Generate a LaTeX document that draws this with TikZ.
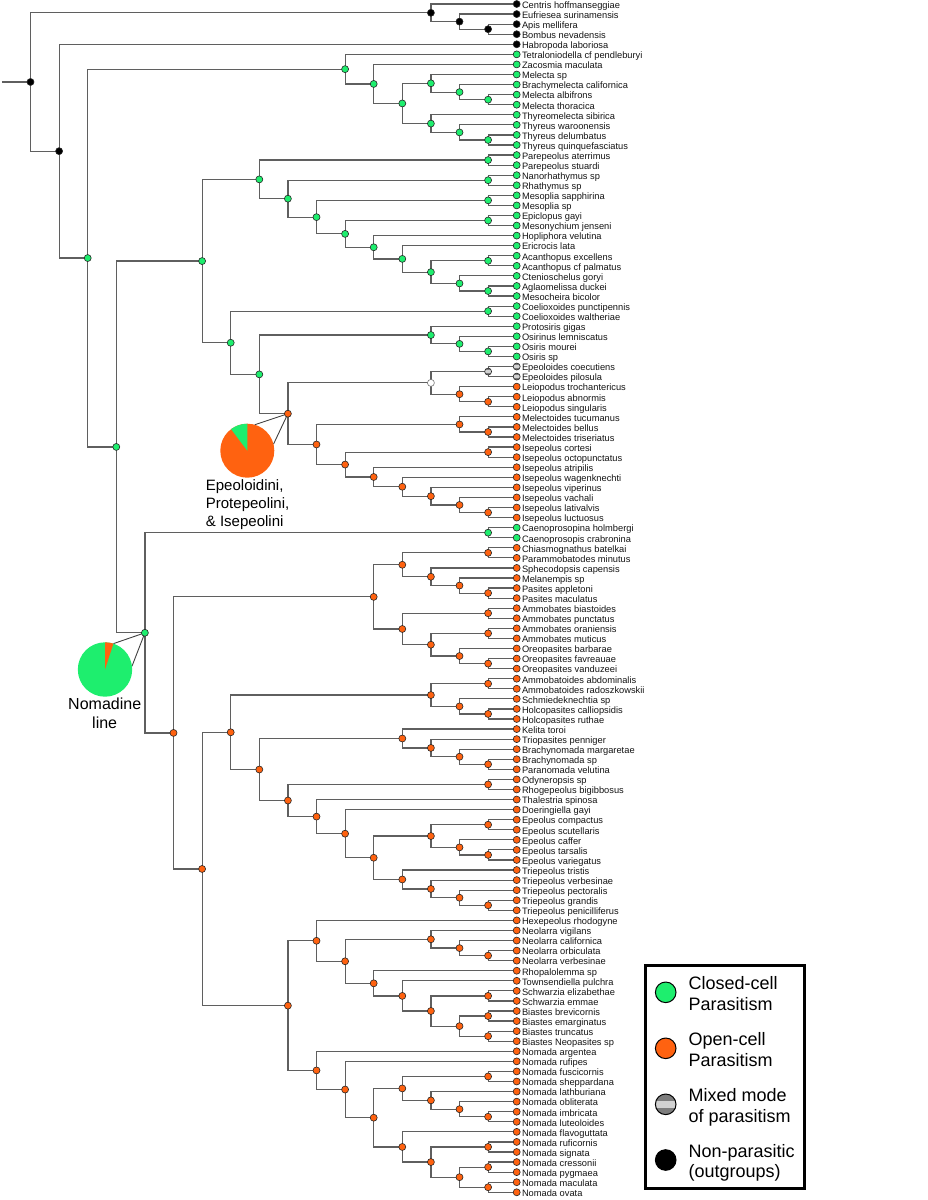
\documentclass[tikz,border=0pt]{standalone}
\usepackage{fontspec}
\setmainfont{Liberation Sans}
\usetikzlibrary{calc}
\definecolor{gcol}{RGB}{30,238,110}
\definecolor{ocol}{RGB}{255,98,16}
\definecolor{ecol}{RGB}{95,95,95}
\definecolor{mixdark}{RGB}{125,125,125}
\definecolor{mixlight}{RGB}{210,210,210}
\pgfdeclarelayer{bg}
\pgfsetlayers{bg,main}
\tikzset{
  branch/.style={draw=ecol, line width=1.2pt},
  pieline/.style={draw=black!75, line width=0.9pt},
  nd/.style={circle, draw=black!85, line width=0.6pt, inner sep=0pt, minimum size=7pt},
  gdot/.style={nd, fill=gcol},
  odot/.style={nd, fill=ocol},
  bdot/.style={nd, fill=black},
  wdot/.style={nd, fill=white, draw=black!55},
  mixband/.style={path picture={\fill[mixlight] ([yshift=-#1]path picture bounding box.west) rectangle ([yshift=#1]path picture bounding box.east);}},
  mdot/.style={nd, fill=mixdark, mixband=1.1pt},
  tiplab/.style={anchor=base west, inner sep=0pt, font=\fontsize{9.3}{10}\selectfont, text=black!92},
  lgdot/.style={circle, draw=black, line width=1pt, inner sep=0pt, minimum size=20.6pt},
  lgtext/.style={anchor=west, inner sep=0pt, align=left, font=\fontsize{18}{20.7}\selectfont},
}
\newcommand\tip[3]{%
  \coordinate (t#1) at (516.7,{4+10.07*(#1-1)});
  \node[#3] (dt#1) at (t#1) {};
  \node[tiplab] (L#1) at (521.8,{8.3+10.07*(#1-1)}) {#2};
}
\newcommand\cl[5]{%
  \path let \p1=(#3), \p2=(#4) in ({(516.7-28.6*#2)*1pt},{0.5*(\y1+\y2)}) coordinate (#1);
  \begin{pgfonlayer}{bg}
  \draw[branch] (#1) |- (#3);
  \draw[branch] (#1) |- (#4);
  \end{pgfonlayer}
  \node[#5] (d#1) at (#1) {};
}
\begin{document}
\begin{tikzpicture}[x=1pt,y=-1pt]
\useasboundingbox (0,0) rectangle (927,1200);
% tips
\foreach \i/\nm in {1/Centris hoffmanseggiae,2/Eufriesea surinamensis,3/Apis mellifera,4/Bombus nevadensis,5/Habropoda laboriosa}{\tip{\i}{\nm}{bdot}}
\foreach \i/\nm in {6/Tetraloniodella cf pendleburyi,7/Zacosmia maculata,8/Melecta sp,9/Brachymelecta californica,10/Melecta albifrons,11/Melecta thoracica,12/Thyreomelecta sibirica,13/Thyreus waroonensis,14/Thyreus delumbatus,15/Thyreus quinquefasciatus,16/Parepeolus aterrimus,17/Parepeolus stuardi,18/Nanorhathymus sp,19/Rhathymus sp,20/Mesoplia sapphirina,21/Mesoplia sp,22/Epiclopus gayi,23/Mesonychium jenseni,24/Hopliphora velutina,25/Ericrocis lata,26/Acanthopus excellens,27/Acanthopus cf palmatus,28/Ctenioschelus goryi,29/Aglaomelissa duckei,30/Mesocheira bicolor,31/Coelioxoides punctipennis,32/Coelioxoides waltheriae,33/Protosiris gigas,34/Osirinus lemniscatus,35/Osiris mourei,36/Osiris sp}{\tip{\i}{\nm}{gdot}}
\foreach \i/\nm in {37/Epeoloides coecutiens,38/Epeoloides pilosula}{\tip{\i}{\nm}{mdot}}
\foreach \i/\nm in {39/Leiopodus trochantericus,40/Leiopodus abnormis,41/Leiopodus singularis,42/Melectoides tucumanus,43/Melectoides bellus,44/Melectoides triseriatus,45/Isepeolus cortesi,46/Isepeolus octopunctatus,47/Isepeolus atripilis,48/Isepeolus wagenknechti,49/Isepeolus viperinus,50/Isepeolus vachali,51/Isepeolus lativalvis,52/Isepeolus luctuosus}{\tip{\i}{\nm}{odot}}
\foreach \i/\nm in {53/Caenoprosopina holmbergi,54/Caenoprosopis crabronina}{\tip{\i}{\nm}{gdot}}
\foreach \i/\nm in {55/Chiasmognathus batelkai,56/Parammobatodes minutus,57/Sphecodopsis capensis,58/Melanempis sp,59/Pasites appletoni,60/Pasites maculatus,61/Ammobates biastoides,62/Ammobates punctatus,63/Ammobates oraniensis,64/Ammobates muticus,65/Oreopasites barbarae,66/Oreopasites favreauae,67/Oreopasites vanduzeei,68/Ammobatoides abdominalis,69/Ammobatoides radoszkowskii,70/Schmiedeknechtia sp,71/Holcopasites calliopsidis,72/Holcopasites ruthae,73/Kelita toroi,74/Triopasites penniger,75/Brachynomada margaretae,76/Brachynomada sp,77/Paranomada velutina,78/Odyneropsis sp,79/Rhogepeolus bigibbosus,80/Thalestria spinosa,81/Doeringiella gayi,82/Epeolus compactus,83/Epeolus scutellaris,84/Epeolus caffer,85/Epeolus tarsalis,86/Epeolus variegatus,87/Triepeolus tristis,88/Triepeolus verbesinae,89/Triepeolus pectoralis,90/Triepeolus grandis,91/Triepeolus penicilliferus,92/Hexepeolus rhodogyne,93/Neolarra vigilans,94/Neolarra californica,95/Neolarra orbiculata,96/Neolarra verbesinae,97/Rhopalolemma sp,98/Townsendiella pulchra,99/Schwarzia elizabethae,100/Schwarzia emmae,101/Biastes brevicornis,102/Biastes emarginatus,103/Biastes truncatus,104/Biastes Neopasites sp,105/Nomada argentea,106/Nomada rufipes,107/Nomada fuscicornis,108/Nomada sheppardana,109/Nomada lathburiana,110/Nomada obliterata,111/Nomada imbricata,112/Nomada luteoloides,113/Nomada flavoguttata,114/Nomada ruficornis,115/Nomada signata,116/Nomada cressonii,117/Nomada pygmaea,118/Nomada maculata,119/Nomada ovata}{\tip{\i}{\nm}{odot}}
% outgroups
\cl{o1}{1}{t3}{t4}{bdot}
\cl{o2}{2}{t2}{o1}{bdot}
\cl{o3}{3}{t1}{o2}{bdot}
% Melectini
\cl{m1}{1}{t10}{t11}{gdot}
\cl{m2}{2}{t9}{m1}{gdot}
\cl{m3}{3}{t8}{m2}{gdot}
\cl{m4}{1}{t14}{t15}{gdot}
\cl{m5}{2}{t13}{m4}{gdot}
\cl{m6}{3}{t12}{m5}{gdot}
\cl{m7}{4}{m3}{m6}{gdot}
\cl{m8}{5}{t7}{m7}{gdot}
\cl{m9}{6}{t6}{m8}{gdot}
% Ericrocidini etc
\cl{a1}{1}{t16}{t17}{gdot}
\cl{a2}{1}{t18}{t19}{gdot}
\cl{a3}{1}{t20}{t21}{gdot}
\cl{a4}{1}{t22}{t23}{gdot}
\cl{a5}{1}{t26}{t27}{gdot}
\cl{a6}{1}{t29}{t30}{gdot}
\cl{a7}{2}{t28}{a6}{gdot}
\cl{a8}{3}{a5}{a7}{gdot}
\cl{a9}{4}{t25}{a8}{gdot}
\cl{a10}{5}{t24}{a9}{gdot}
\cl{a11}{6}{a4}{a10}{gdot}
\cl{a12}{7}{a3}{a11}{gdot}
\cl{a13}{8}{a2}{a12}{gdot}
\cl{a14}{9}{a1}{a13}{gdot}
% Coelioxoides, Osirini, Epeoloidini, Isepeolini
\cl{b1}{1}{t31}{t32}{gdot}
\cl{b2}{1}{t35}{t36}{gdot}
\cl{b3}{2}{t34}{b2}{gdot}
\cl{b4}{3}{t33}{b3}{gdot}
\cl{b5}{1}{t37}{t38}{mdot}
\cl{b6}{1}{t40}{t41}{odot}
\cl{b7}{2}{t39}{b6}{odot}
\cl{b8}{3}{b5}{b7}{wdot}
\cl{b9}{1}{t43}{t44}{odot}
\cl{b10}{2}{t42}{b9}{odot}
\cl{b11}{1}{t45}{t46}{odot}
\cl{b12}{1}{t51}{t52}{odot}
\cl{b13}{2}{t50}{b12}{odot}
\cl{b14}{3}{t49}{b13}{odot}
\cl{b15}{4}{t48}{b14}{odot}
\cl{b16}{5}{t47}{b15}{odot}
\cl{b17}{6}{b11}{b16}{odot}
\cl{b18}{7}{b10}{b17}{odot}
\cl{b19}{8}{b8}{b18}{odot}
\cl{b20}{9}{b4}{b19}{gdot}
\cl{b21}{10}{b1}{b20}{gdot}
\cl{b22}{11}{a14}{b21}{gdot}
% Nomadinae
\cl{c1}{1}{t53}{t54}{gdot}
\cl{c2}{1}{t55}{t56}{odot}
\cl{c3}{1}{t59}{t60}{odot}
\cl{c4}{2}{t58}{c3}{odot}
\cl{c5}{3}{t57}{c4}{odot}
\cl{c6}{4}{c2}{c5}{odot}
\cl{c7}{1}{t61}{t62}{odot}
\cl{c8}{1}{t63}{t64}{odot}
\cl{c9}{1}{t66}{t67}{odot}
\cl{c10}{2}{t65}{c9}{odot}
\cl{c11}{3}{c8}{c10}{odot}
\cl{c12}{4}{c7}{c11}{odot}
\cl{c13}{5}{c6}{c12}{odot}
\cl{c14}{1}{t68}{t69}{odot}
\cl{c15}{1}{t71}{t72}{odot}
\cl{c16}{2}{t70}{c15}{odot}
\cl{c17}{3}{c14}{c16}{odot}
\cl{c18}{1}{t76}{t77}{odot}
\cl{c19}{2}{t75}{c18}{odot}
\cl{c20}{3}{t74}{c19}{odot}
\cl{c21}{4}{t73}{c20}{odot}
\cl{c22}{1}{t78}{t79}{odot}
\cl{c23}{1}{t82}{t83}{odot}
\cl{c24}{1}{t85}{t86}{odot}
\cl{c25}{2}{t84}{c24}{odot}
\cl{c26}{3}{c23}{c25}{odot}
\cl{c27}{1}{t90}{t91}{odot}
\cl{c28}{2}{t89}{c27}{odot}
\cl{c29}{3}{t88}{c28}{odot}
\cl{c30}{4}{t87}{c29}{odot}
\cl{c31}{5}{c26}{c30}{odot}
\cl{c32}{6}{t81}{c31}{odot}
\cl{c33}{7}{t80}{c32}{odot}
\cl{c34}{8}{c22}{c33}{odot}
\cl{c35}{9}{c21}{c34}{odot}
\cl{c36}{10}{c17}{c35}{odot}
\cl{d1}{1}{t95}{t96}{odot}
\cl{d2}{2}{t94}{d1}{odot}
\cl{d3}{3}{t93}{d2}{odot}
\cl{d4}{1}{t99}{t100}{odot}
\cl{d5}{1}{t101}{t102}{odot}
\cl{d6}{1}{t103}{t104}{odot}
\cl{d7}{2}{d5}{d6}{odot}
\cl{d8}{3}{d4}{d7}{odot}
\cl{d9}{4}{t98}{d8}{odot}
\cl{d10}{5}{t97}{d9}{odot}
\cl{d11}{6}{d3}{d10}{odot}
\cl{d12}{7}{t92}{d11}{odot}
\cl{e1}{1}{t107}{t108}{odot}
\cl{e2}{1}{t111}{t112}{odot}
\cl{e3}{2}{t110}{e2}{odot}
\cl{e4}{3}{t109}{e3}{odot}
\cl{e5}{4}{e1}{e4}{odot}
\cl{e6}{1}{t114}{t115}{odot}
\cl{e7}{1}{t116}{t117}{odot}
\cl{e8}{1}{t118}{t119}{odot}
\cl{e9}{2}{e7}{e8}{odot}
\cl{e10}{3}{e6}{e9}{odot}
\cl{e11}{4}{t113}{e10}{odot}
\cl{e12}{5}{e5}{e11}{odot}
\cl{e13}{6}{t106}{e12}{odot}
\cl{e14}{7}{t105}{e13}{odot}
\cl{e15}{8}{d12}{e14}{odot}
\cl{c37}{11}{c36}{e15}{odot}
\cl{c38}{12}{c13}{c37}{odot}
\cl{c39}{13}{c1}{c38}{gdot}
% backbone
\cl{r1}{14}{b22}{c39}{gdot}
\cl{r2}{15}{m9}{r1}{gdot}
\cl{r3}{16}{t5}{r2}{bdot}
\cl{root}{17}{o3}{r3}{bdot}
\path (root) ++(-28.5,0) coordinate (stem);
\begin{pgfonlayer}{bg}
\draw[branch] (stem) -- (root);
\end{pgfonlayer}
% pie charts
\coordinate (pie1) at (247.3,450.7);
\coordinate (p1a) at ($(pie1)+(-74:27)$);
\coordinate (p1b) at ($(pie1)+(-14:27)$);
\begin{pgfonlayer}{bg}
\draw[pieline] (b19) -- (p1a);
\draw[pieline] (b19) -- (p1b);
\end{pgfonlayer}
\fill[ocol] (pie1) circle[radius=27];
\fill[gcol] (pie1) -- ++(-90:27) arc[start angle=-90,end angle=-127,radius=27] -- cycle;
\node[align=left, anchor=west, inner sep=0pt, font=\fontsize{15}{18}\selectfont] (grp1) at (205.7,505.1) {\strut Epeoloidini,\\\strut Protepeolini,\\\strut \& Isepeolini};
\coordinate (pie2) at (105,669.5);
\coordinate (p2a) at ($(pie2)+(-72:27.2)$);
\coordinate (p2b) at ($(pie2)+(-7:27.2)$);
\begin{pgfonlayer}{bg}
\draw[pieline] (c39) -- (p2a);
\draw[pieline] (c39) -- (p2b);
\end{pgfonlayer}
\fill[gcol] (pie2) circle[radius=27.2];
\fill[ocol] (pie2) -- ++(-72:27.2) arc[start angle=-72,end angle=-90,radius=27.2] -- cycle;
\node[align=center, inner sep=0pt, font=\fontsize{16}{19.3}\selectfont] (grp2) at (104.7,715.3) {\strut Nomadine\\\strut line};
% legend
\draw[line width=3pt] (645.5,965.5) rectangle (804.2,1188.5);
\node[lgdot, fill=gcol] (k1) at (665.7,992.3) {};
\node[lgdot, fill=ocol] (k2) at (665.7,1048.3) {};
\node[lgdot, fill=mixdark, mixband=3.3pt] (k3) at (665.7,1104.3) {};
\node[lgdot, fill=black] (k4) at (665.7,1160) {};
\node[lgtext] (k1t) at (688.5,995.9) {\strut Closed-cell\\\strut Parasitism};
\node[lgtext] (k2t) at (688.5,1051.8) {\strut Open-cell\\\strut Parasitism};
\node[lgtext] (k3t) at (688.5,1107.6) {\strut Mixed mode\\\strut of parasitism};
\node[lgtext] (k4t) at (688.5,1163.4) {\strut Non-parasitic\\\strut (outgroups)};
\end{tikzpicture}
\end{document}
